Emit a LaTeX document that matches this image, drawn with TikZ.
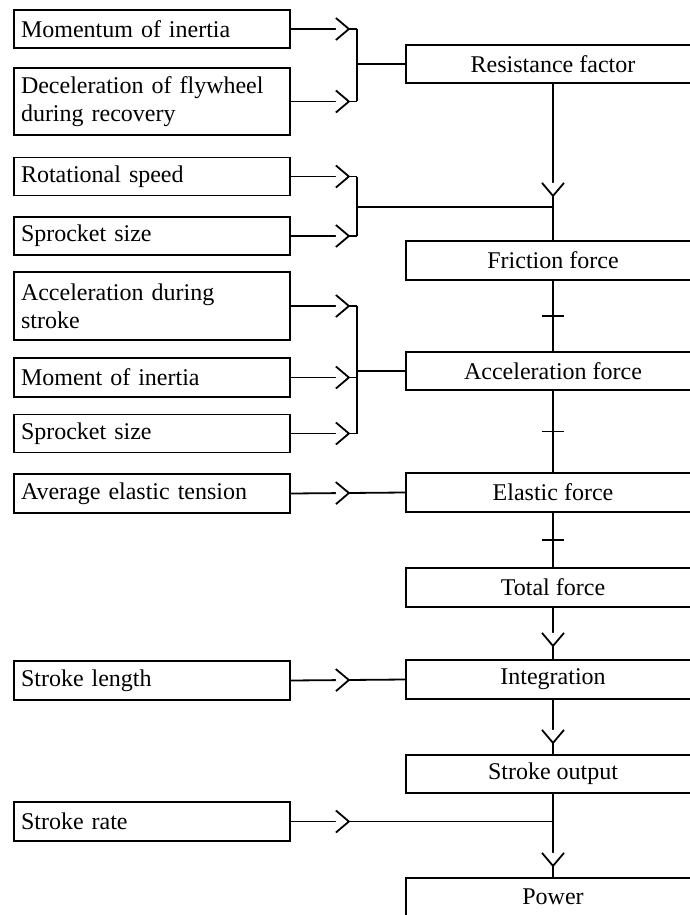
\documentclass[tikz,border=0pt]{standalone}
\usepackage{fontspec}
\setmainfont{Liberation Serif}
\usetikzlibrary{decorations.markings}

\tikzset{
	inbox/.style={draw, line width=1.8pt, minimum width=276pt, minimum height=38pt, text width=262pt, align=left, inner xsep=7pt, inner ysep=0pt},
	outbox/.style={draw, line width=1.8pt, minimum width=294pt, minimum height=38pt, inner sep=0pt},
	chev/.style={postaction={decorate, decoration={markings, mark=at position #1 with {
		\fill[white] (0.5pt,0pt) -- (-13pt,10pt) -- (-13pt,-10pt) -- cycle;
		\draw[line width=1.8pt] (-13pt,11pt) -- (0pt,0pt) -- (-13pt,-11pt);}}}},
	plus/.style={postaction={decorate, decoration={markings, mark=at position 0.5 with {
		\draw[line width=1.8pt] (0pt,-11pt) -- (0pt,11pt);}}}},
}

\begin{document}
\begin{tikzpicture}[x=1pt, y=-1pt, line width=1.8pt, font=\fontsize{24}{28}\selectfont]
	\useasboundingbox (0,0) rectangle (690,915);
	\clip (0,0) rectangle (690,915);
	%left side
		\node [inbox] (mominert) at (152,29) {Momentum of inertia};
		\node [inbox, minimum height=67pt] (decel) at (152,101.5) {Deceleration of flywheel\\during recovery};
		\node [inbox] (rotspeed) at (152,176.5) {Rotational speed};
		\node [inbox] (sprocketa) at (152,236) {Sprocket size};
		\node [inbox, minimum height=68pt] (accstroke) at (152,306) {Acceleration during\\stroke};
		\node [inbox, minimum height=39pt] (mominertb) at (152,377.5) {Moment of inertia};
		\node [inbox] (sprocketb) at (152,433.5) {Sprocket size};
		\node [inbox, minimum height=39pt] (avgtension) at (152,493.5) {Average elastic tension};
		\node [inbox, minimum height=39pt] (strlength) at (152,680.5) {Stroke length};
		\node [inbox, minimum height=39pt] (strrate) at (152,821.5) {Stroke rate};
	%right side
		\node [outbox] (resist) at (553,64) {Resistance factor};
		\node [outbox, minimum height=39pt] (friction) at (553,260.5) {Friction force};
		\node [outbox] (accforce) at (553,371) {Acceleration force};
		\node [outbox, minimum height=39pt] (elastic) at (553,492.5) {Elastic force};
		\node [outbox, minimum height=39pt] (total) at (553,587.5) {Total force};
		\node [outbox, minimum height=39pt] (integ) at (553,679.5) {Integration};
		\node [outbox] (strout) at (553,774) {Stroke output};
		\node [outbox] (power) at (553,897) {Power};
	%joints
		\coordinate (bara) at (357,64);
		\coordinate (barb) at (357,207);
		\coordinate (barc) at (357,371);
		\coordinate (joinb) at (553,207);
		\coordinate (joinr) at (553,821.5);
	%first group
		\draw [chev=58pt] (mominert.east) to (mominert.east -| bara);
		\draw [chev=58pt] (decel.east) to (decel.east -| bara);
		\draw (mominert.east -| bara) to (decel.east -| bara);
		\draw (bara) to (resist.west);
	%second group
		\draw [chev=58pt] (rotspeed.east) to (rotspeed.east -| barb);
		\draw [chev=58pt] (sprocketa.east) to (sprocketa.east -| barb);
		\draw (rotspeed.east -| barb) to (sprocketa.east -| barb);
		\draw (barb) to (joinb);
	%third group
		\draw [chev=58pt] (accstroke.east) to (accstroke.east -| barc);
		\draw [chev=58pt] (mominertb.east) to (mominertb.east -| barc);
		\draw [chev=58pt] (sprocketb.east) to (sprocketb.east -| barc);
		\draw (accstroke.east -| barc) to (sprocketb.east -| barc);
		\draw (barc) to (accforce.west);
	%single inputs
		\draw [chev=58pt] (avgtension.east) to (elastic.west);
		\draw [chev=58pt] (strlength.east) to (integ.west);
		\draw [chev=58pt] (strrate.east) to (joinr);
	%main column
		\draw [chev=112pt] (resist.south) to (friction.north);
		\draw [plus] (friction.south) to (accforce.north);
		\draw [plus] (accforce.south) to (elastic.north);
		\draw [plus] (elastic.south) to (total.north);
		\draw [chev=38pt] (total.south) to (integ.north);
		\draw [chev=43pt] (integ.south) to (strout.north);
		\draw [chev=72pt] (strout.south) to (power.north);
\end{tikzpicture}
\end{document}
